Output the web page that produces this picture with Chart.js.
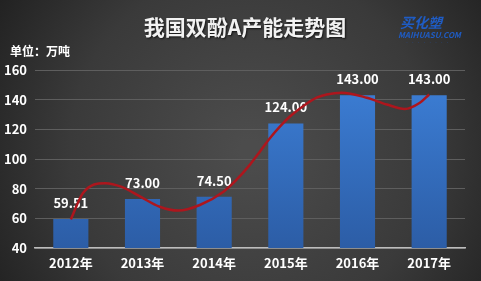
<!DOCTYPE html>
<html>
<head>
<meta charset="utf-8">
<script src="https://cdn.jsdelivr.net/npm/chart.js@4/dist/chart.umd.min.js"></script>
<style>
 html, body { margin: 0; padding: 0; background: #2a2a2a; }
 #wrap { position: relative; width: 481px; height: 281px; }
</style>
</head>
<body>
<div id="wrap"><canvas id="myChart" width="481" height="281"></canvas></div>
<script>
'use strict';

// data
var years = ['2012年', '2013年', '2014年', '2015年', '2016年', '2017年'];
var capacity = [59.51, 73.00, 74.50, 124.00, 143.00, 143.00];
var yTicks = [40, 60, 80, 100, 120, 140, 160];
// the red trend curve (x = category index)
var trendX = [0, 0.17, 0.48, 0.71, 0.97, 1.24, 1.50, 1.80, 2.13, 2.31, 2.50, 2.64, 2.78, 2.92, 3.06, 3.24, 3.43, 3.57, 3.78, 4.13, 4.41, 4.66, 4.87, 5.0];
var trendY = [59.3, 77.1, 83.7, 81.2, 74.6, 67.8, 65.2, 69.0, 78.0, 85.9, 96.2, 105.1, 114.2, 122.0, 128.8, 135.6, 141.3, 143.5, 144.7, 141.3, 136.7, 133.7, 137.9, 143.5];

var title = '我国双酚A产能走势图';
var unit = '单位：万吨';
var font = '"Noto Sans CJK SC", "Noto Sans", sans-serif';

var bars = capacity.map(function (v, i) { return { x: i, y: v }; });
var trend = trendX.map(function (x, i) { return { x: x, y: trendY[i] }; });

var background = {
  id: 'background',
  beforeDraw: function (chart) {
    var c = chart.ctx;
    var g = c.createRadialGradient(250, 150, 10, 250, 150, 320);
    g.addColorStop(0, '#4c4c4c');
    g.addColorStop(0.55, '#3a3a3a');
    g.addColorStop(1, '#1c1c1c');
    c.save();
    c.fillStyle = g;
    c.fillRect(0, 0, chart.width, chart.height);

    c.textBaseline = 'middle';
    c.textAlign = 'center';
    c.font = 'bold 21px ' + font;
    c.shadowColor = 'rgba(0,0,0,0.7)';
    c.shadowOffsetX = 1;
    c.shadowOffsetY = 1;
    c.shadowBlur = 2;
    c.fillStyle = '#f2f2f2';
    c.fillText(title, 245, 27);
    c.shadowColor = 'transparent';

    c.textAlign = 'left';
    c.font = 'bold 12px ' + font;
    c.fillStyle = '#ffffff';
    c.fillText(unit, 10, 51);

    // logo
    c.fillStyle = '#1f5cc4';
    c.font = 'italic bold 14px ' + font;
    c.fillText('买化塑', 400, 23);
    c.font = 'italic bold 8px ' + font;
    c.fillText('MAIHUASU.COM', 398, 35);
    c.fillStyle = 'rgba(31,92,196,0.5)';
    c.font = '4px ' + font;
    c.fillText('·  ·  ·  ·  ·  ·  ·  ·', 405, 43);
    c.restore();
  }
};

var barLabels = {
  id: 'barLabels',
  afterDatasetDraw: function (chart, args) {
    if (args.index !== 0) return;
    var c = chart.ctx;
    c.save();
    c.font = 'bold 13px ' + font;
    c.fillStyle = '#ffffff';
    c.textAlign = 'center';
    c.textBaseline = 'middle';
    args.meta.data.forEach(function (bar, i) {
      c.fillText(capacity[i].toFixed(2), bar.x, bar.y - 16);
    });
    c.restore();
  }
};

function barFill(context) {
  var area = context.chart.chartArea;
  if (!area) return '#3570c0';
  var g = context.chart.ctx.createLinearGradient(0, area.top, 0, area.bottom);
  g.addColorStop(0, '#3d80d8');
  g.addColorStop(1, '#2c5da6');
  return g;
}

var ctx = document.getElementById('myChart');
var myChart = new Chart(ctx, {
  type: 'bar',
  data: {
    datasets: [{
      label: '产能',
      data: bars,
      backgroundColor: barFill,
      categoryPercentage: 1,
      barPercentage: 0.49,
      order: 2
    }, {
      type: 'line',
      label: '趋势',
      data: trend,
      borderColor: '#ad161d',
      borderWidth: 2.5,
      pointRadius: 0,
      cubicInterpolationMode: 'monotone',
      fill: false,
      order: 1
    }]
  },
  options: {
    responsive: false,
    animation: false,
    layout: { padding: { top: 70, right: 16, left: 0, bottom: 0 } },
    plugins: {
      legend: { display: false },
      tooltip: { enabled: false }
    },
    scales: {
      x: {
        type: 'linear',
        min: -0.5,
        max: years.length - 0.5,
        offset: false,
        afterBuildTicks: function (scale) {
          scale.ticks = years.map(function (y, i) { return { value: i }; });
        },
        grid: { display: false, drawTicks: false, tickLength: 0 },
        border: { color: '#bdbdbd', width: 1.5 },
        ticks: {
          color: '#ffffff',
          padding: 7,
          maxRotation: 0,
          autoSkip: false,
          font: { family: font, size: 13, weight: 'bold' },
          callback: function (v) { return years[v]; }
        },
        afterFit: function (scale) { scale.height = 33; }
      },
      y: {
        min: yTicks[0],
        max: yTicks[yTicks.length - 1],
        afterBuildTicks: function (scale) {
          scale.ticks = yTicks.map(function (v) { return { value: v }; });
        },
        grid: { color: '#5e5e5e', lineWidth: 1, drawTicks: false },
        border: { display: false },
        ticks: {
          color: '#ffffff',
          padding: 8,
          font: { family: font, size: 13, weight: 'bold' }
        },
        afterFit: function (scale) { scale.width = 35; }
      }
    }
  },
  plugins: [background, barLabels]
});
</script>
</body>
</html>
